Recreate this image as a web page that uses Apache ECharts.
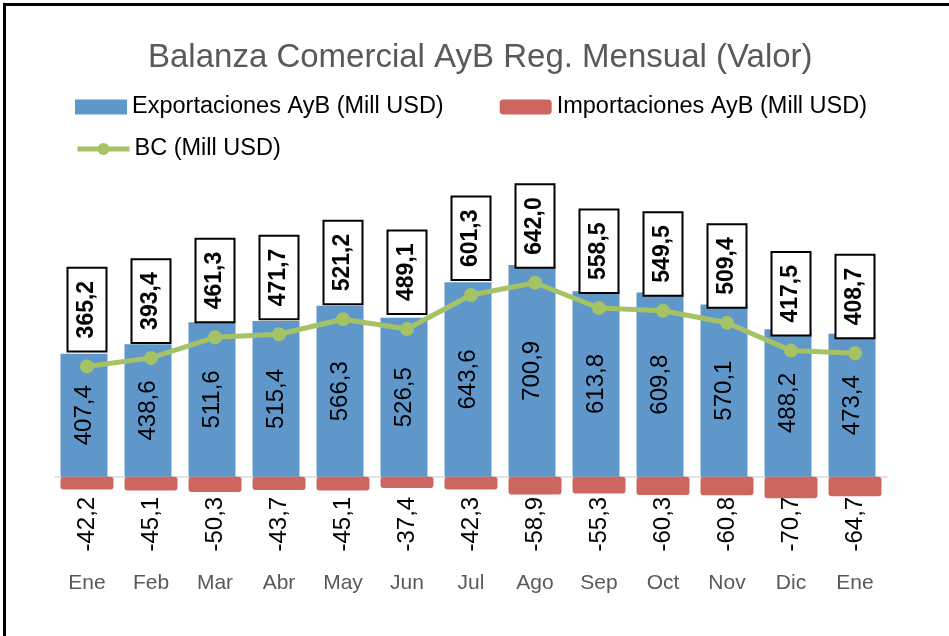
<!DOCTYPE html>
<html>
<head>
<meta charset="utf-8">
<script src="https://cdn.jsdelivr.net/npm/echarts@6/dist/echarts.min.js"></script>
<style>
html, body { margin: 0; padding: 0; background: #fff; }
#main { width: 949px; height: 636px; }
</style>
</head>
<body>
<div id="main"></div>
<script>
// datos mensuales (Mill USD)
var meses = ['Ene', 'Feb', 'Mar', 'Abr', 'May', 'Jun', 'Jul', 'Ago', 'Sep', 'Oct', 'Nov', 'Dic', 'Ene'];
var exportaciones = [407.4, 438.6, 511.6, 515.4, 566.3, 526.5, 643.6, 700.9, 613.8, 609.8, 570.1, 488.2, 473.4];
var importaciones = [-42.2, -45.1, -50.3, -43.7, -45.1, -37.4, -42.3, -58.9, -55.3, -60.3, -60.8, -70.7, -64.7];
var bc = [365.2, 393.4, 461.3, 471.7, 521.2, 489.1, 601.3, 642.0, 558.5, 549.5, 509.4, 417.5, 408.7];

var fuente = 'Liberation Sans';

function coma(v) {
    return v.toFixed(1).replace('.', ',');
}

var myChart = echarts.init(document.getElementById('main'));
var option = {
    backgroundColor: '#fff',
    textStyle: { fontFamily: fuente },
    title: {
        text: 'Balanza Comercial AyB Reg. Mensual (Valor)',
        left: 143,
        top: 36,
        textStyle: { fontSize: 33, fontWeight: 'normal', color: '#595959', fontFamily: fuente }
    },
    legend: [{
        data: [
            { name: 'Exportaciones AyB (Mill USD)', icon: 'rect' },
            { name: 'Importaciones AyB (Mill USD)', icon: 'roundRect' }
        ],
        left: 70,
        top: 90,
        itemWidth: 52,
        itemHeight: 15,
        itemGap: 56,
        textStyle: { fontSize: 23.5, color: '#000', fontFamily: fuente }
    }, {
        data: ['BC (Mill USD)'],
        left: 70,
        top: 132,
        itemWidth: 52,
        itemHeight: 15,
        lineStyle: { width: 5 },
        textStyle: { fontSize: 23.5, color: '#000', fontFamily: fuente }
    }],
    grid: {
        left: 55,
        right: 62,
        top: 235,
        bottom: 129
    },
    xAxis: {
        type: 'category',
        data: meses,
        axisLine: { onZero: true, lineStyle: { color: '#d9d9d9', width: 1.5 } },
        axisTick: { inside: true, length: 5, lineStyle: { color: '#d9d9d9' } },
        axisLabel: { margin: 66, fontSize: 21, color: '#595959', fontFamily: fuente }
    },
    yAxis: {
        type: 'value',
        min: -100,
        max: 800,
        show: false,
        splitLine: { show: false }
    },
    series: [{
        name: 'Exportaciones AyB (Mill USD)',
        type: 'bar',
        data: exportaciones,
        barWidth: 47,
        barGap: '-100%',
        itemStyle: { color: '#6097cb' },
        label: {
            show: true,
            position: 'inside',
            rotate: 90,
            fontSize: 24,
            color: '#000',
            fontFamily: fuente,
            formatter: function (p) { return coma(p.value); }
        }
    }, {
        name: 'Importaciones AyB (Mill USD)',
        type: 'bar',
        data: importaciones,
        barWidth: 53,
        barGap: '-100%',
        itemStyle: { color: '#cd665f', borderRadius: 3 },
        label: {
            show: true,
            position: 'insideTop',
            distance: 20,
            rotate: 90,
            align: 'right',
            verticalAlign: 'middle',
            fontSize: 24,
            color: '#000',
            fontFamily: fuente,
            formatter: function (p) { return coma(p.value); }
        }
    }, {
        name: 'BC (Mill USD)',
        type: 'line',
        data: bc,
        symbol: 'circle',
        symbolSize: 14,
        z: 5,
        lineStyle: { color: '#a5c264', width: 5 },
        itemStyle: { color: '#a5c264' },
        label: {
            show: true,
            position: 'top',
            distance: 9,
            rotate: 90,
            align: 'left',
            verticalAlign: 'middle',
            fontSize: 23,
            fontWeight: 'bold',
            color: '#000',
            fontFamily: fuente,
            backgroundColor: '#fff',
            borderColor: '#000',
            borderWidth: 2,
            padding: [7, 12, 7, 12],
            formatter: function (p) { return coma(p.value); }
        }
    }],
    graphic: [{
        type: 'rect',
        shape: { x: 3, y: 3, width: 949, height: 3 },
        style: { fill: '#000' }
    }, {
        type: 'rect',
        shape: { x: 3, y: 3, width: 3, height: 636 },
        style: { fill: '#000' }
    }]
};
myChart.setOption(option);
</script>
</body>
</html>
